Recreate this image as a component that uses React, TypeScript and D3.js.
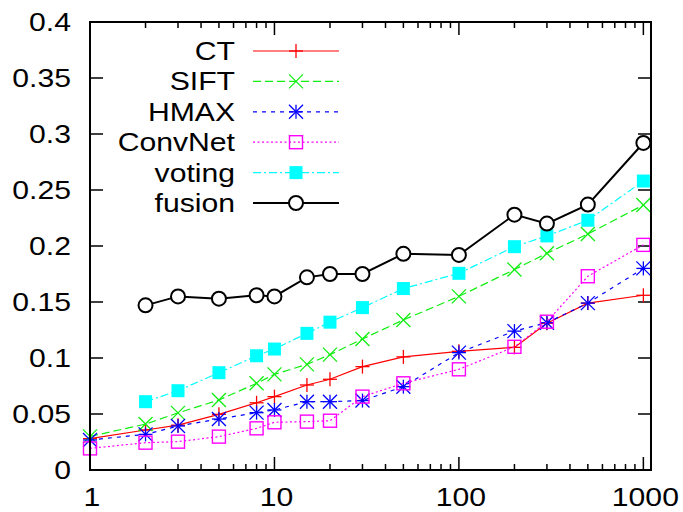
import React from "react";
import * as d3 from "d3";

const xValues = [1, 2, 3, 5, 8, 10, 15, 20, 30, 50, 100, 200, 300, 500, 1000];

const ctValues = [0.028, 0.0357, 0.040, 0.0497, 0.060, 0.0655, 0.0759, 0.081, 0.0923, 0.101, 0.106, 0.1095, 0.131, 0.149, 0.156];
const siftValues = [0.030, 0.041, 0.051, 0.0625, 0.0774, 0.0854, 0.0943, 0.103, 0.117, 0.134, 0.155, 0.179, 0.1935, 0.2107, 0.2366];
const hmaxValues = [0.0268, 0.0318, 0.0393, 0.0455, 0.0512, 0.0536, 0.061, 0.061, 0.062, 0.0744, 0.1048, 0.124, 0.1315, 0.149, 0.180];
const convnetValues = [0.0193, 0.0244, 0.0253, 0.0298, 0.0372, 0.0426, 0.0432, 0.044, 0.0655, 0.0774, 0.0899, 0.110, 0.1324, 0.173, 0.201];
const votingValues = [null, 0.061, 0.0708, 0.0869, 0.102, 0.108, 0.122, 0.132, 0.145, 0.162, 0.1756, 0.1994, 0.209, 0.223, 0.258];
const fusionValues = [null, 0.147, 0.155, 0.153, 0.156, 0.155, 0.172, 0.175, 0.175, 0.193, 0.192, 0.228, 0.220, 0.237, 0.292];

const seriesNames = ["CT", "SIFT", "HMAX", "ConvNet", "voting", "fusion"];

const yTickValues = [0, 0.05, 0.1, 0.15, 0.2, 0.25, 0.3, 0.35, 0.4];
const yTickLabels = ["0", "0.05", "0.1", "0.15", "0.2", "0.25", "0.3", "0.35", "0.4"];
const xTickValues = [1, 10, 100, 1000];
const xTickLabels = ["1", "10", "100", "1000"];

type Style = {
  color: string;
  dash: string;
  width: number;
  marker: "plus" | "cross" | "star" | "osquare" | "fsquare" | "circle";
};

const styles: Style[] = [
  { color: "#ff0000", dash: "", width: 1.2, marker: "plus" },
  { color: "#11ee11", dash: "8,4", width: 1.2, marker: "cross" },
  { color: "#0000ff", dash: "4,5", width: 1.2, marker: "star" },
  { color: "#ff00ff", dash: "2,2.5", width: 1.2, marker: "osquare" },
  { color: "#00ffff", dash: "8,3,2,3", width: 1.2, marker: "fsquare" },
  { color: "#000000", dash: "", width: 2, marker: "circle" },
];

const allSeries = [ctValues, siftValues, hmaxValues, convnetValues, votingValues, fusionValues];

const FONT = "'Liberation Sans', Arial, Helvetica, sans-serif";
const FS = 26;
const SX = 1.16;

function Marker({ x, y, s }: { x: number; y: number; s: Style }) {
  const h = 7;
  const c = s.color;
  switch (s.marker) {
    case "plus":
      return (
        <g stroke={c} strokeWidth={1.3}>
          <line x1={x - h} y1={y} x2={x + h} y2={y} />
          <line x1={x} y1={y - h} x2={x} y2={y + h} />
        </g>
      );
    case "cross":
      return (
        <g stroke={c} strokeWidth={1.3}>
          <line x1={x - h} y1={y - h} x2={x + h} y2={y + h} />
          <line x1={x - h} y1={y + h} x2={x + h} y2={y - h} />
        </g>
      );
    case "star":
      return (
        <g stroke={c} strokeWidth={1.3}>
          <line x1={x - h} y1={y} x2={x + h} y2={y} />
          <line x1={x} y1={y - h} x2={x} y2={y + h} />
          <line x1={x - h} y1={y - h} x2={x + h} y2={y + h} />
          <line x1={x - h} y1={y + h} x2={x + h} y2={y - h} />
        </g>
      );
    case "osquare":
      return <rect x={x - 6.5} y={y - 6.5} width={13} height={13} fill="none" stroke={c} strokeWidth={1.4} />;
    case "fsquare":
      return <rect x={x - 6.5} y={y - 6.5} width={13} height={13} fill={c} stroke="none" />;
    case "circle":
      return <circle cx={x} cy={y} r={7} fill="white" stroke={c} strokeWidth={2} />;
  }
  return null;
}

function Label({ x, y, anchor, children }: { x: number; y: number; anchor: string; children: React.ReactNode }) {
  return (
    <text
      transform={`translate(${x},${y}) scale(${SX},1)`}
      textAnchor={anchor}
      fontFamily={FONT}
      fontSize={FS}
      fill="#000"
    >
      {children}
    </text>
  );
}

export default function App() {
  const W = 683;
  const H = 512;
  const left = 90;
  const right = 651;
  const top = 22;
  const bottom = 470;

  const x = d3.scaleLog().domain([1, 1100]).range([left, right]);
  const y = d3.scaleLinear().domain([0, 0.4]).range([bottom, top]);

  const minorTicks: number[] = [];
  for (const dec of [1, 10, 100]) {
    for (let k = 2; k <= 9; k++) minorTicks.push(dec * k);
  }

  const lineGen = d3
    .line<[number, number | null]>()
    .defined((d) => d[1] !== null)
    .x((d) => x(d[0]))
    .y((d) => y(d[1] as number));

  const legendX1 = 253;
  const legendX2 = 339;
  const legendMid = 296;
  const legendY0 = 51;
  const legendStep = 30.4;

  return (
    <svg width={W} height={H} style={{ position: "absolute", left: 0, top: 0, background: "white" }}>
      <rect x={0} y={0} width={W} height={H} fill="white" />
      {/* ticks */}
      <g stroke="#000" strokeWidth={1.5}>
        {yTickValues.map((v, i) => (
          <g key={"yt" + i}>
            <line x1={left} x2={left + 13} y1={y(v)} y2={y(v)} />
            <line x1={right} x2={right - 13} y1={y(v)} y2={y(v)} />
          </g>
        ))}
        {xTickValues.map((v, i) => (
          <g key={"xt" + i}>
            <line x1={x(v)} x2={x(v)} y1={bottom} y2={bottom - 13} />
            <line x1={x(v)} x2={x(v)} y1={top} y2={top + 13} />
          </g>
        ))}
        {minorTicks.map((v, i) => (
          <g key={"mt" + i}>
            <line x1={x(v)} x2={x(v)} y1={bottom} y2={bottom - 6} />
            <line x1={x(v)} x2={x(v)} y1={top} y2={top + 6} />
          </g>
        ))}
      </g>
      {/* tick labels */}
      {yTickValues.map((v, i) => (
        <Label key={"yl" + i} x={71} y={y(v) + 9} anchor="end">
          {yTickLabels[i]}
        </Label>
      ))}
      {xTickValues.map((v, i) => (
        <Label key={"xl" + i} x={x(v) + 2} y={506} anchor="middle">
          {xTickLabels[i]}
        </Label>
      ))}
      {/* series */}
      {allSeries.map((vals, si) => {
        const s = styles[si];
        const pts: [number, number | null][] = xValues.map((xv, i) => [xv, vals[i]]);
        const ly = legendY0 + si * legendStep;
        return (
          <g key={"s" + si}>
            <path
              d={lineGen(pts) || ""}
              fill="none"
              stroke={s.color}
              strokeWidth={s.width}
              strokeDasharray={s.dash || undefined}
            />
            {pts
              .filter((p) => p[1] !== null)
              .map((p, i) => (
                <Marker key={i} x={x(p[0])} y={y(p[1] as number)} s={s} />
              ))}
            <Label x={235} y={ly + 9} anchor="end">
              {seriesNames[si]}
            </Label>
            <line
              x1={legendX1}
              x2={legendX2}
              y1={ly}
              y2={ly}
              stroke={s.color}
              strokeWidth={s.width}
              strokeDasharray={s.dash || undefined}
            />
            <Marker x={legendMid} y={ly} s={s} />
          </g>
        );
      })}
      {/* border */}
      <rect x={left} y={top} width={right - left} height={bottom - top} fill="none" stroke="#000" strokeWidth={2} />
    </svg>
  );
}
